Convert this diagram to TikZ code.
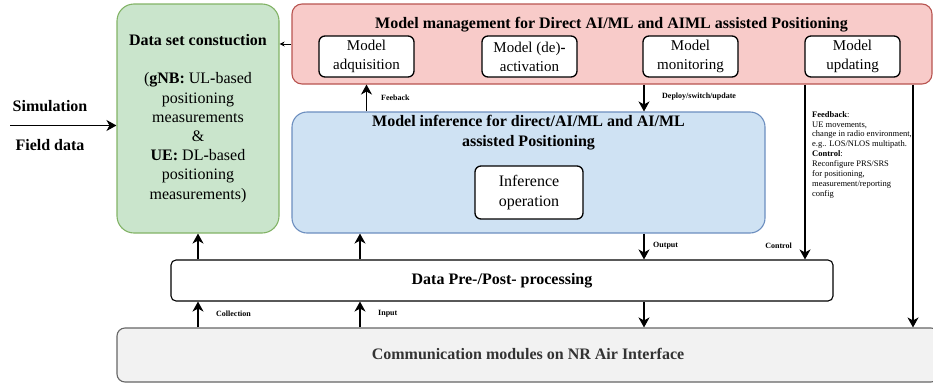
\documentclass[tikz,border=0pt]{standalone}
\usepackage{fontspec}
\setmainfont{Liberation Serif}
\usetikzlibrary{arrows.meta,calc}
\definecolor{gfill}{HTML}{CAE5CC}
\definecolor{gline}{HTML}{82B366}
\definecolor{rfill}{HTML}{F8CBC9}
\definecolor{rline}{HTML}{B85450}
\definecolor{bfill}{HTML}{CFE2F3}
\definecolor{bline}{HTML}{6C8EBF}
\definecolor{cfill}{HTML}{F2F2F2}
\definecolor{cline}{HTML}{666666}
\definecolor{ctext}{HTML}{333333}
\begin{document}
\begin{tikzpicture}[x=1pt,y=-1pt,
  box/.style={draw, line width=1.1pt, inner sep=0pt},
  inner/.style={draw=black, fill=white, line width=1.3pt, rounded corners=6pt, inner sep=0pt,
    minimum width=95pt, minimum height=41pt, align=center, font=\fontsize{15}{19}\selectfont},
  arr/.style={line width=1.3pt, -{Stealth[length=10pt,width=11pt,inset=3pt]}},
  sarr/.style={line width=1pt, -{Stealth[length=5pt,width=5pt,inset=1.5pt]}},
  tiny/.style={font=\fontsize{8}{9}\selectfont\bfseries, inner sep=0pt},
  big/.style={font=\fontsize{16}{19.2}\selectfont\bfseries, inner sep=0pt}]
\useasboundingbox (0,0) rectangle (933,383);

% main boxes
\node[box, draw=gline, fill=gfill, rounded corners=17pt, minimum width=162pt, minimum height=229pt,
  align=center, font=\fontsize{16}{19.2}\selectfont] (g) at (198,118.5)
  {\textbf{Data set constuction}\\[19.2pt]
   (\textbf{gNB:} UL\textbf{-}based\\ positioning\\ measurements\\ \&\\
   \textbf{UE:} DL\textbf{-}based\\ positioning\\ measurements)};
\node[box, draw=rline, fill=rfill, rounded corners=10pt, minimum width=640pt, minimum height=80pt] (red) at (612,44) {};
\node[box, draw=bline, fill=bfill, rounded corners=15pt, minimum width=473pt, minimum height=121pt] (b) at (528.5,172.5) {};
\node[box, draw=black, fill=white, rounded corners=5pt, minimum width=662pt, minimum height=41pt, big] (dp) at (502,280.5) {Data Pre-/Post- processing};
\node[box, draw=cline, fill=cfill, rounded corners=8pt, minimum width=822pt, minimum height=54pt] (comm) at (528,355) {};
\node[big, text=ctext] (commtext) at (528,354) {Communication modules on NR Air Interface};

% titles
\node[big] (rtitle) at (611.5,25) {Model management for Direct AI/ML and AIML assisted Positioning};
\node[big, align=center, font=\fontsize{16}{20}\selectfont\bfseries] (btitle) at (528.5,133) {Model inference for direct/AI/ML and AI/ML\\assisted Positioning};

% inner boxes
\node[inner] (adq) at (366.5,56.5) {Model\\adquisition};
\node[inner] (deact) at (529.5,56.5) {Model (de)\textbf{-}\\activation};
\node[inner] (mon) at (690.5,56.5) {Model\\monitoring};
\node[inner] (upd) at (852.5,56.5) {Model\\updating};
\node[inner, minimum width=108pt, minimum height=53pt, font=\fontsize{16}{20}\selectfont] (inf) at (529,192.5) {Inference\\operation};

% input side
\coordinate (src) at (10,125.5);
\node[big] (sim) at (50,106) {Simulation};
\node[big] (fld) at (50,145) {Field data};
\draw[arr] (src) -- (g.west |- src);

% connectors
\coordinate (xa) at (360,0);
\coordinate (xd) at (644,0);
\coordinate (xu) at (805,0);
\coordinate (xr) at (913,0);
\draw[sarr] (red.west) -- (g.east |- red.west);
\draw[arr] (b.north -| adq.south) -- (red.south -| adq.south);
\draw[arr] (red.south -| xd) -- (b.north -| xd);
\draw[arr] (b.south -| xd) -- (dp.north -| xd);
\draw[arr] (dp.south -| xd) -- (comm.north -| xd);
\draw[arr] (red.south -| xu) -- (dp.north -| xu);
\draw[arr] (red.south -| xr) -- (comm.north -| xr);
\draw[arr] (dp.north -| g.south) -- (g.south);
\draw[arr] (dp.north -| xa) -- (b.south -| xa);
\draw[arr] (comm.north -| g.south) -- (dp.south -| g.south);
\draw[arr] (comm.north -| xa) -- (dp.south -| xa);

% labels
\node[tiny, anchor=west] (lfb) at (381,98) {Feeback};
\node[tiny, anchor=west] (ldep) at (662,97) {Deploy/switch/update};
\node[tiny, anchor=west] (lout) at (653,246) {Output};
\node[tiny, anchor=east] (lctl) at (792,246) {Control};
\node[tiny, anchor=west] (lcol) at (216,314) {Collection};
\node[tiny, anchor=west] (lin) at (378,314) {Input};
\node[anchor=north west, align=left, inner sep=0pt, font=\fontsize{8.5}{9.9}\selectfont] (fbtext) at (812,111)
  {\textbf{Feedback}:\\UE movements,\\change in radio environment,\\e.g.. LOS/NLOS multipath.\\\textbf{Control}:\\Reconfigure PRS/SRS\\for positioning,\\measurement/reporting\\config};
\end{tikzpicture}
\end{document}
